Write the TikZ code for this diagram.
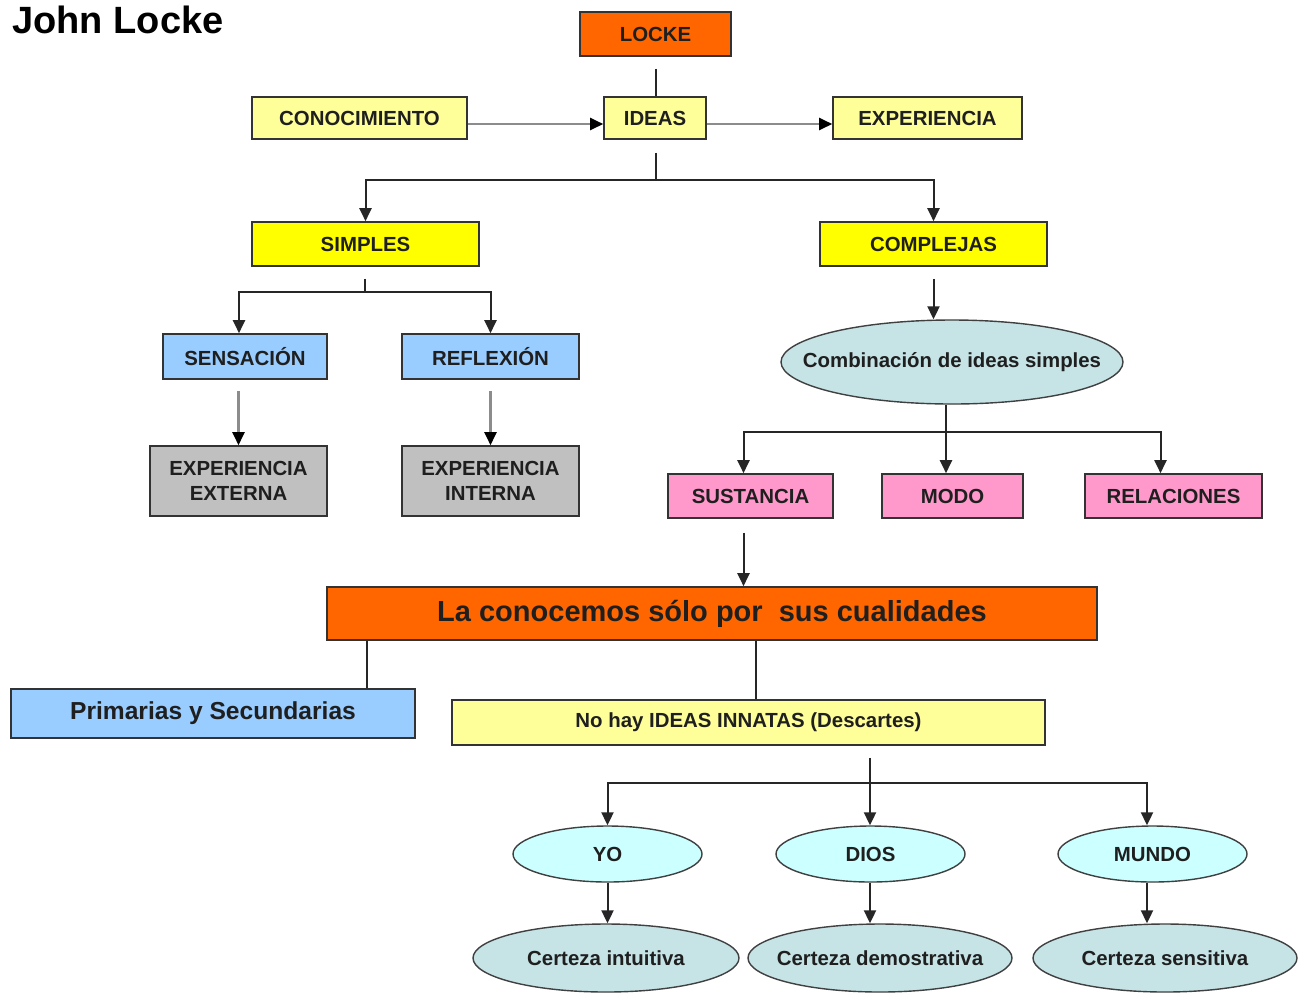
\documentclass[tikz,border=0pt]{standalone}
\usepackage{fontspec}
\setmainfont{Liberation Sans}
\usetikzlibrary{arrows.meta,shapes.geometric,calc}
\definecolor{cOrange}{HTML}{FF6600}
\definecolor{cLYel}{HTML}{FFFF99}
\definecolor{cYel}{HTML}{FFFF00}
\definecolor{cBlue}{HTML}{99CCFF}
\definecolor{cGray}{HTML}{C0C0C0}
\definecolor{cPink}{HTML}{FF99CC}
\definecolor{cTeal}{HTML}{C6E3E6}
\definecolor{cCyan}{HTML}{CCFFFF}
\newcommand{\ztext}[1]{\makebox[0pt]{#1}}
\begin{document}
\begin{tikzpicture}[x=0.5pt,y=-0.5pt,
  box/.style={draw=black!80, line width=0.8pt, inner sep=0pt, align=center,
    font=\bfseries\fontsize{10.2}{12.5}\selectfont, text=black!88},
  ell/.style={ellipse, draw=black!75, line width=0.7pt, inner sep=0pt,
    font=\bfseries\fontsize{10.2}{12.5}\selectfont, text=black!88},
  ln/.style={draw=black!85, line width=1pt},
  arr/.style={ln, -{Triangle[width=6pt,length=6.5pt]}},
  garr/.style={draw=black!45, line width=1.1pt, -{Triangle[width=6pt,length=6.5pt,color=black]}}
]
\clip (0,0) rectangle (1306,992);
\fill[white] (0,0) rectangle (1306,992);

% title
\node[anchor=west, inner sep=0pt, font=\bfseries\fontsize{19}{22}\selectfont] (title) at (12,20) {John Locke};

% top
\node[box, fill=cOrange, minimum width=75.5pt, minimum height=22pt] (locke) at (655.5,34) {LOCKE};
\node[box, fill=cLYel, minimum width=51pt, minimum height=21pt] (ideas) at (655,118) {IDEAS};
\node[box, fill=cLYel, minimum width=107.5pt, minimum height=21pt] (conoc) at (359.5,118) {CONOCIMIENTO};
\node[box, fill=cLYel, minimum width=94.5pt, minimum height=21pt] (exper) at (927.5,118) {EXPERIENCIA};

\node[box, fill=cYel, minimum width=113.5pt, minimum height=22pt] (simples) at (365.5,244) {SIMPLES};
\node[box, fill=cYel, minimum width=113.5pt, minimum height=22pt] (complejas) at (933.5,244) {COMPLEJAS};

\node[box, fill=cBlue, minimum width=82pt, minimum height=22.5pt] (sens) at (245,356.5) {SENSACIÓN};
\node[box, fill=cBlue, minimum width=88.5pt, minimum height=22.5pt] (refl) at (490.5,356.5) {REFLEXIÓN};
\node[box, fill=cGray, minimum width=88.5pt, minimum height=35pt] (extern) at (238.5,481) {EXPERIENCIA\\EXTERNA};
\node[box, fill=cGray, minimum width=88.5pt, minimum height=35pt] (intern) at (490.5,481) {EXPERIENCIA\\INTERNA};

\node[ell, fill=cTeal, minimum width=171pt, minimum height=42pt] (comb) at (952,362) {\ztext{Combinación de ideas simples}};

\node[box, fill=cPink, minimum width=82.5pt, minimum height=22pt] (sust) at (750.5,496) {SUSTANCIA};
\node[box, fill=cPink, minimum width=70.5pt, minimum height=22pt] (modo) at (952.5,496) {MODO};
\node[box, fill=cPink, minimum width=88.5pt, minimum height=22pt] (relac) at (1173.5,496) {RELACIONES};

\node[box, fill=cOrange, minimum width=385pt, minimum height=26.5pt, font=\bfseries\fontsize{14.5}{17}\selectfont] (lacon) at (712,613.5) {La conocemos sólo por \ sus cualidades};
\node[box, fill=cBlue, minimum width=202pt, minimum height=24.5pt, font=\bfseries\fontsize{12.3}{15}\selectfont] (prim) at (213,713.5) {Primarias y Secundarias};
\node[box, fill=cLYel, minimum width=296.5pt, minimum height=22.5pt] (nohay) at (748.5,722.5) {No hay IDEAS INNATAS (Descartes)};

\node[ell, fill=cCyan, minimum width=94.5pt, minimum height=28pt] (yo) at (607.5,854) {\ztext{YO}};
\node[ell, fill=cCyan, minimum width=94.5pt, minimum height=28pt] (dios) at (870.5,854) {\ztext{DIOS}};
\node[ell, fill=cCyan, minimum width=94.5pt, minimum height=28pt] (mundo) at (1152.5,854) {\ztext{MUNDO}};

\node[ell, fill=cTeal, minimum width=133pt, minimum height=34pt] (c1) at (606,958) {\ztext{Certeza intuitiva}};
\node[ell, fill=cTeal, minimum width=132pt, minimum height=34pt] (c2) at (880,958) {\ztext{Certeza demostrativa}};
\node[ell, fill=cTeal, minimum width=132pt, minimum height=34pt] (c3) at (1165,958) {\ztext{Certeza sensitiva}};

% connectors
\draw[ln] ($(locke.south)+(0,12)$) -- (locke.south |- ideas.north);
\draw[garr] ([yshift=-3pt]conoc.east) -- ([yshift=-3pt]ideas.west);
\draw[garr] ([yshift=-3pt]ideas.east) -- ([yshift=-3pt]exper.west);

\coordinate (j1) at (656,180);
\draw[ln] ($(j1 |- ideas.south)+(0,13)$) -- (j1);
\draw[arr] (j1) -| (simples.north);
\draw[arr] (j1) -| (complejas.north);

\coordinate (j2) at (365,292);
\draw[ln] ($(j2 |- simples.south)+(0,12)$) -- (j2);
\draw[arr] (j2) -| ($(sens.north)+(-6,0)$);
\draw[arr] (j2) -| (refl.north);
\draw[garr] ($(extern.north |- sens.south)+(0,11)$) -- (extern.north);
\draw[garr] ($(intern.north |- refl.south)+(0,11)$) -- (intern.north);

\draw[arr] ($(complejas.south)+(0,12)$) -- (complejas.south |- comb.north);
\coordinate (j3) at (946,432);
\draw[ln] (j3 |- comb.south) -- (j3);
\draw[arr] (j3) -| ($(sust.north)+(-7,0)$);
\draw[arr] (j3) -- (j3 |- modo.north);
\draw[arr] (j3) -| ($(relac.north)+(-13,0)$);

\draw[arr] ($(sust.south)+(-7,14)$) -- ($(sust.south |- lacon.north)+(-7,0)$);

\coordinate (p1) at (367,0);
\coordinate (p2) at (756,0);
\draw[ln] (p1 |- lacon.south) -- (p1 |- prim.north);
\draw[ln] (p2 |- lacon.south) -- (p2 |- nohay.north);

\coordinate (j4) at (870,783);
\coordinate (m) at (1147,0);
\draw[ln] ($(j4 |- nohay.south)+(0,12)$) -- (j4);
\draw[arr] (j4) -| (yo.north);
\draw[arr] (j4) -- (j4 |- dios.north);
\draw[arr] (j4) -| (m |- mundo.north);
\draw[arr] (yo.south) -- (yo.south |- c1.north);
\draw[arr] (j4 |- dios.south) -- (j4 |- c2.north);
\draw[arr] (m |- mundo.south) -- (m |- c3.north);
\end{tikzpicture}
\end{document}
